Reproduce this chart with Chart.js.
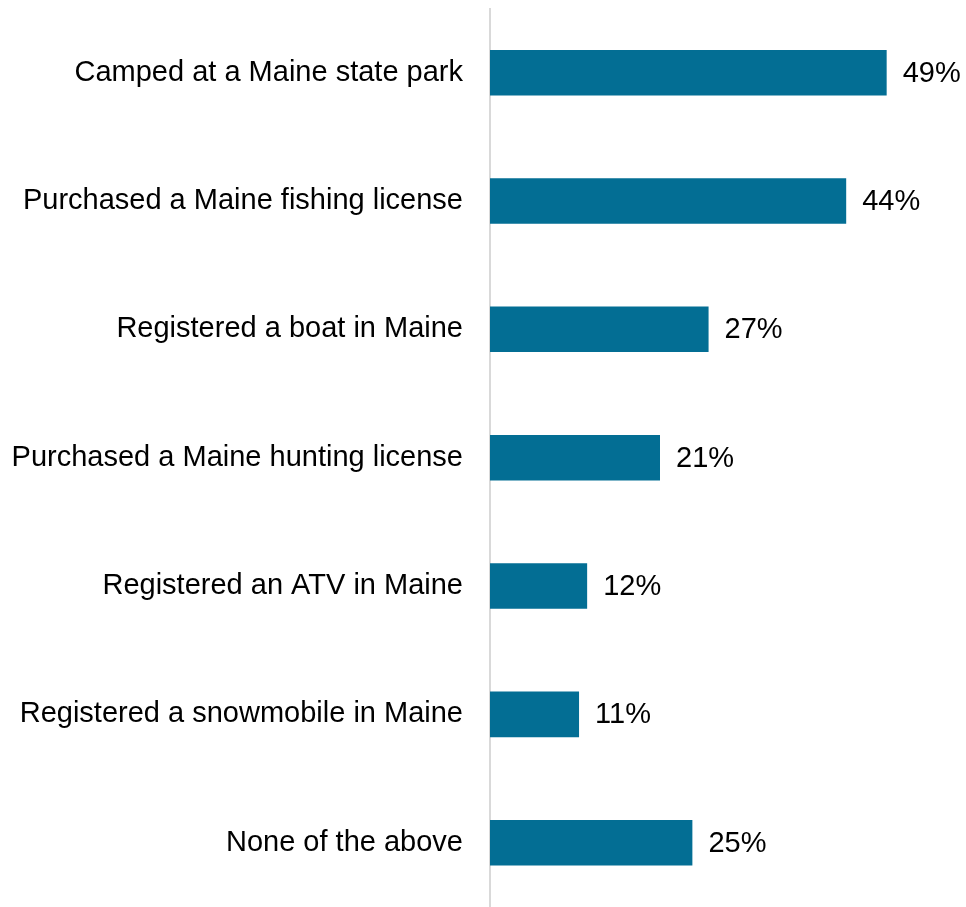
<!DOCTYPE html>
<html>
<head>
<meta charset="utf-8">
<script src="https://cdn.jsdelivr.net/npm/chart.js@4"></script>
<style>
  html, body { margin: 0; padding: 0; background: #fff; }
  #wrap { width: 966px; height: 907px; }
</style>
</head>
<body>
<div id="wrap"><canvas id="myChart"></canvas></div>
<script>
var categories = [
    "Camped at a Maine state park",
    "Purchased a Maine fishing license",
    "Registered a boat in Maine",
    "Purchased a Maine hunting license",
    "Registered an ATV in Maine",
    "Registered a snowmobile in Maine",
    "None of the above"
];
var values = [49, 44, 27, 21, 12, 11, 25];

// value labels at the end of each bar
var endLabels = {
    id: 'endLabels',
    afterDatasetsDraw: function(chart) {
        var ctx = chart.ctx;
        var meta = chart.getDatasetMeta(0);
        ctx.save();
        ctx.font = '29px "Liberation Sans", Arial, sans-serif';
        ctx.fillStyle = '#000';
        ctx.textAlign = 'left';
        ctx.textBaseline = 'middle';
        meta.data.forEach(function(bar, i) {
            ctx.fillText(values[i] + '%', bar.x + 16, bar.y + 1);
        });
        ctx.restore();
    }
};

var ctx = document.getElementById('myChart').getContext('2d');
var chart = new Chart(ctx, {
    type: 'bar',
    data: {
        labels: categories,
        datasets: [{
            data: values,
            backgroundColor: '#036e94',
            barPercentage: 0.355,
            categoryPercentage: 1
        }]
    },
    options: {
        indexAxis: 'y',
        responsive: true,
        maintainAspectRatio: false,
        animation: false,
        layout: { padding: { top: 8.5, bottom: 0, left: 0, right: 0 } },
        plugins: {
            legend: { display: false },
            tooltip: { enabled: false }
        },
        scales: {
            x: {
                display: false,
                min: 0,
                max: 58.8
            },
            y: {
                afterFit: function(scale) { scale.width = 490; },
                grid: { display: false, drawTicks: true, tickLength: 27 },
                border: { display: true, color: '#d9d9d9', width: 2 },
                ticks: {
                    padding: 0,
                    color: '#000',
                    // tiny lineHeight keeps the axis from reserving extra top/bottom space
                    font: { family: '"Liberation Sans", Arial, sans-serif', size: 29, lineHeight: 0.01 }
                }
            }
        }
    },
    plugins: [endLabels]
});
</script>
</body>
</html>
